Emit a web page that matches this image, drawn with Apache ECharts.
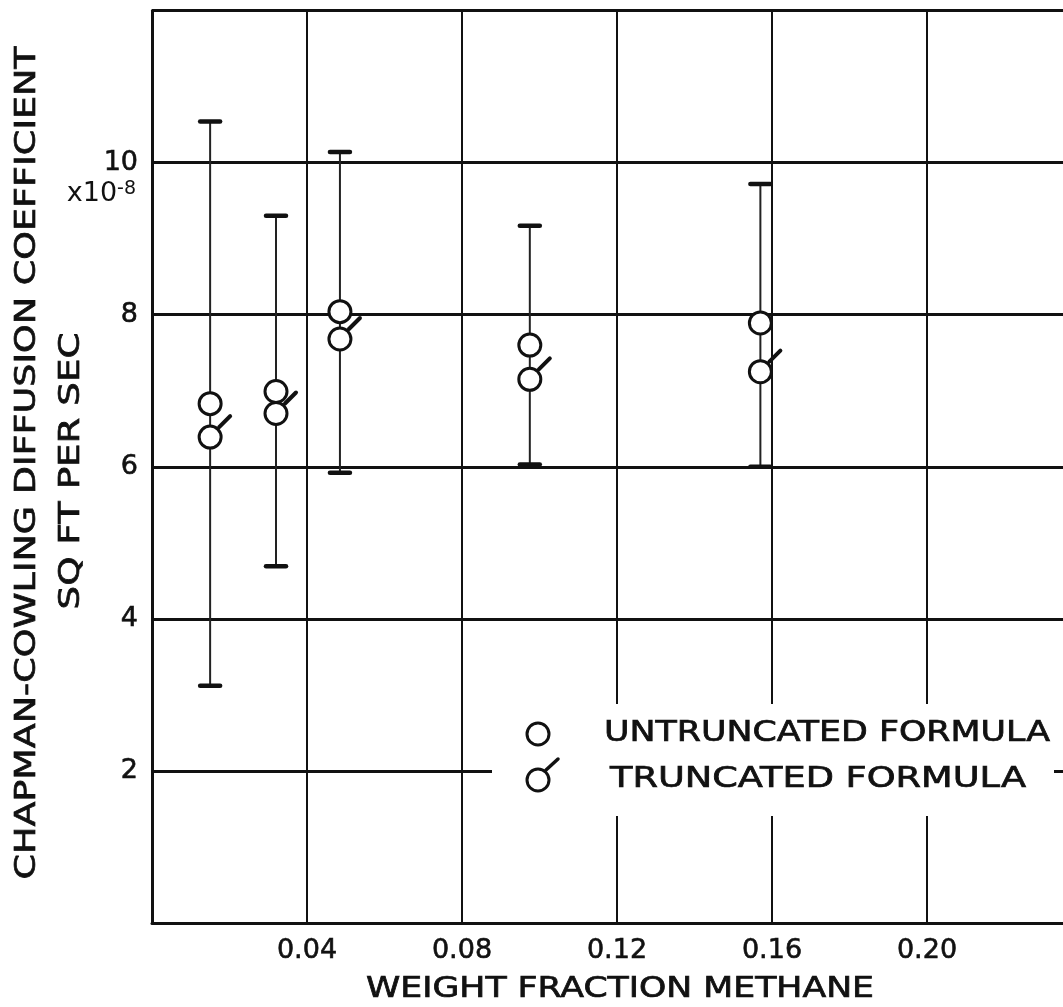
<!DOCTYPE html>
<html>
<head>
<meta charset="utf-8">
<title>Chapman-Cowling diffusion coefficient vs weight fraction methane</title>
<script src="https://cdn.jsdelivr.net/npm/echarts@6/dist/echarts.min.js"></script>
<style>
  html, body { margin: 0; padding: 0; background: #ffffff; }
  #chart { width: 1063px; height: 1007px; }
</style>
</head>
<body>
<div id="chart"></div>
<script>
// Axis tick labels
const xTickLabels = [0.04, 0.08, 0.12, 0.16, 0.20];
const yTickLabels = [2, 4, 6, 8, 10];

// Measured points: weight fraction of methane and diffusion coefficient (x10^-8 sq ft/sec)
const weightFraction = [0.015, 0.032, 0.0485, 0.0975, 0.157];
const untruncatedFormula = [6.83, 6.99, 8.04, 7.60, 7.89];
const truncatedFormula = [6.39, 6.70, 7.68, 7.15, 7.25];
// Spread of each measurement (lower and upper limits)
const rangeLow = [3.12, 4.69, 5.92, 6.03, 6.00];
const rangeHigh = [10.54, 9.30, 10.14, 9.17, 9.72];

const FONT = '"DejaVu Sans", sans-serif';
const INK = '#111111';

const rangeData = weightFraction.map((x, i) => [x, rangeLow[i], rangeHigh[i]]);
const untruncData = weightFraction.map((x, i) => [x, untruncatedFormula[i]]);
const truncData = weightFraction.map((x, i) => [x, truncatedFormula[i]]);

// Horizontal stretch so the lettering spans a given length
const measureCtx = document.createElement('canvas').getContext('2d');
function stretchFor(text, size, target) {
  measureCtx.font = size + 'px ' + FONT;
  return target / measureCtx.measureText(text).width;
}

function stretchedText(text, x, y, size, target, align, rotation) {
  return {
    type: 'text',
    x: x,
    y: y,
    rotation: rotation || 0,
    scaleX: stretchFor(text, size, target),
    z: 20,
    style: {
      text: text,
      font: size + 'px ' + FONT,
      fill: INK,
      stroke: INK,
      lineWidth: 0.7,
      align: align,
      verticalAlign: 'middle'
    }
  };
}

const isTick = (list, v) => list.some(t => Math.abs(t - v) < 1e-9);

const chart = echarts.init(document.getElementById('chart'), null, { renderer: 'canvas' });

const labelStyle = {
  margin: 14,
  fontFamily: FONT,
  fontSize: 27,
  color: INK,
  textBorderColor: INK,
  textBorderWidth: 0.6
};

const option = {
  animation: false,
  backgroundColor: '#ffffff',
  // the plot runs on past the right edge of the page
  grid: { left: 152, top: 10.5, width: 930, bottom: 84, outerBoundsMode: 'none', containLabel: false },
  xAxis: {
    type: 'value',
    min: 0,
    max: 0.24,
    interval: 0.04,
    axisLine: { show: true, onZero: false, lineStyle: { color: INK, width: 3 } },
    axisTick: { show: false },
    axisLabel: Object.assign({}, labelStyle, {
      formatter: v => isTick(xTickLabels, v) ? v.toFixed(2) : ''
    }),
    splitLine: { show: true, lineStyle: { color: INK, width: 2 } }
  },
  yAxis: {
    type: 'value',
    min: 0,
    max: 12,
    interval: 2,
    axisLine: { show: true, onZero: false, lineStyle: { color: INK, width: 3 } },
    axisTick: { show: false },
    axisLabel: Object.assign({}, labelStyle, {
      formatter: v => isTick(yTickLabels, v) ? String(v) : ''
    }),
    splitLine: { show: true, lineStyle: { color: INK, width: 3 } }
  },
  series: [
    {
      // vertical range bars with end caps
      type: 'custom',
      name: 'range',
      data: rangeData,
      encode: { x: 0, y: [1, 2] },
      z: 3,
      renderItem: (params, api) => {
        const x = api.value(0);
        const lo = api.coord([x, api.value(1)]);
        const hi = api.coord([x, api.value(2)]);
        const cap = 10;
        return {
          type: 'group',
          children: [
            { type: 'line', shape: { x1: lo[0], y1: lo[1], x2: hi[0], y2: hi[1] },
              style: { stroke: '#222222', lineWidth: 2 } },
            { type: 'line', shape: { x1: lo[0] - cap, y1: lo[1], x2: lo[0] + cap, y2: lo[1] },
              style: { stroke: INK, lineWidth: 4.5, lineCap: 'round' } },
            { type: 'line', shape: { x1: hi[0] - cap, y1: hi[1], x2: hi[0] + cap, y2: hi[1] },
              style: { stroke: INK, lineWidth: 4.5, lineCap: 'round' } }
          ]
        };
      }
    },
    {
      type: 'scatter',
      name: 'UNTRUNCATED FORMULA',
      data: untruncData,
      symbol: 'circle',
      symbolSize: 22,
      z: 5,
      itemStyle: { color: '#ffffff', borderColor: INK, borderWidth: 3, opacity: 1 }
    },
    {
      // open circle with a short stroke at its upper right
      type: 'custom',
      name: 'TRUNCATED FORMULA',
      data: truncData,
      encode: { x: 0, y: 1 },
      z: 5,
      renderItem: (params, api) => {
        const p = api.coord([api.value(0), api.value(1)]);
        return {
          type: 'group',
          children: [
            { type: 'circle', shape: { cx: p[0], cy: p[1], r: 11 },
              style: { fill: '#ffffff', stroke: INK, lineWidth: 3 } },
            { type: 'line', shape: { x1: p[0] + 9, y1: p[1] - 10, x2: p[0] + 20, y2: p[1] - 21 },
              style: { stroke: INK, lineWidth: 4, lineCap: 'round' } }
          ]
        };
      }
    }
  ],
  graphic: [
    // key panel
    { type: 'rect', x: 492, y: 704, z: 10, shape: { width: 562, height: 112 },
      style: { fill: '#ffffff' } },
    { type: 'circle', x: 538, y: 734, z: 20, shape: { cx: 0, cy: 0, r: 11 },
      style: { fill: '#ffffff', stroke: INK, lineWidth: 3 } },
    { type: 'circle', x: 538, y: 780, z: 20, shape: { cx: 0, cy: 0, r: 11 },
      style: { fill: '#ffffff', stroke: INK, lineWidth: 3 } },
    { type: 'line', x: 538, y: 780, z: 20, shape: { x1: 8, y1: -10, x2: 20, y2: -21 },
      style: { stroke: INK, lineWidth: 3.5, lineCap: 'round' } },
    stretchedText('UNTRUNCATED FORMULA', 604, 734, 28, 446, 'left'),
    stretchedText('TRUNCATED FORMULA', 610, 780, 28, 416, 'left'),
    // axis titles
    stretchedText('WEIGHT FRACTION METHANE', 620, 990, 28, 508, 'center'),
    stretchedText('CHAPMAN-COWLING DIFFUSION COEFFICIENT', 28, 463, 28, 833, 'center', Math.PI / 2),
    stretchedText('SQ FT PER SEC', 72, 471, 28, 277, 'center', Math.PI / 2),
    // scale factor beside the top label
    {
      type: 'text', x: 136, y: 207, z: 20,
      style: {
        text: '{a|x10}{b|-8}',
        align: 'right',
        verticalAlign: 'bottom',
        fill: INK,
        rich: {
          a: { fontFamily: FONT, fontSize: 27, fill: INK, verticalAlign: 'bottom' },
          b: { fontFamily: FONT, fontSize: 19, fill: INK, verticalAlign: 'top' }
        }
      }
    }
  ]
};

chart.setOption(option);
</script>
</body>
</html>
